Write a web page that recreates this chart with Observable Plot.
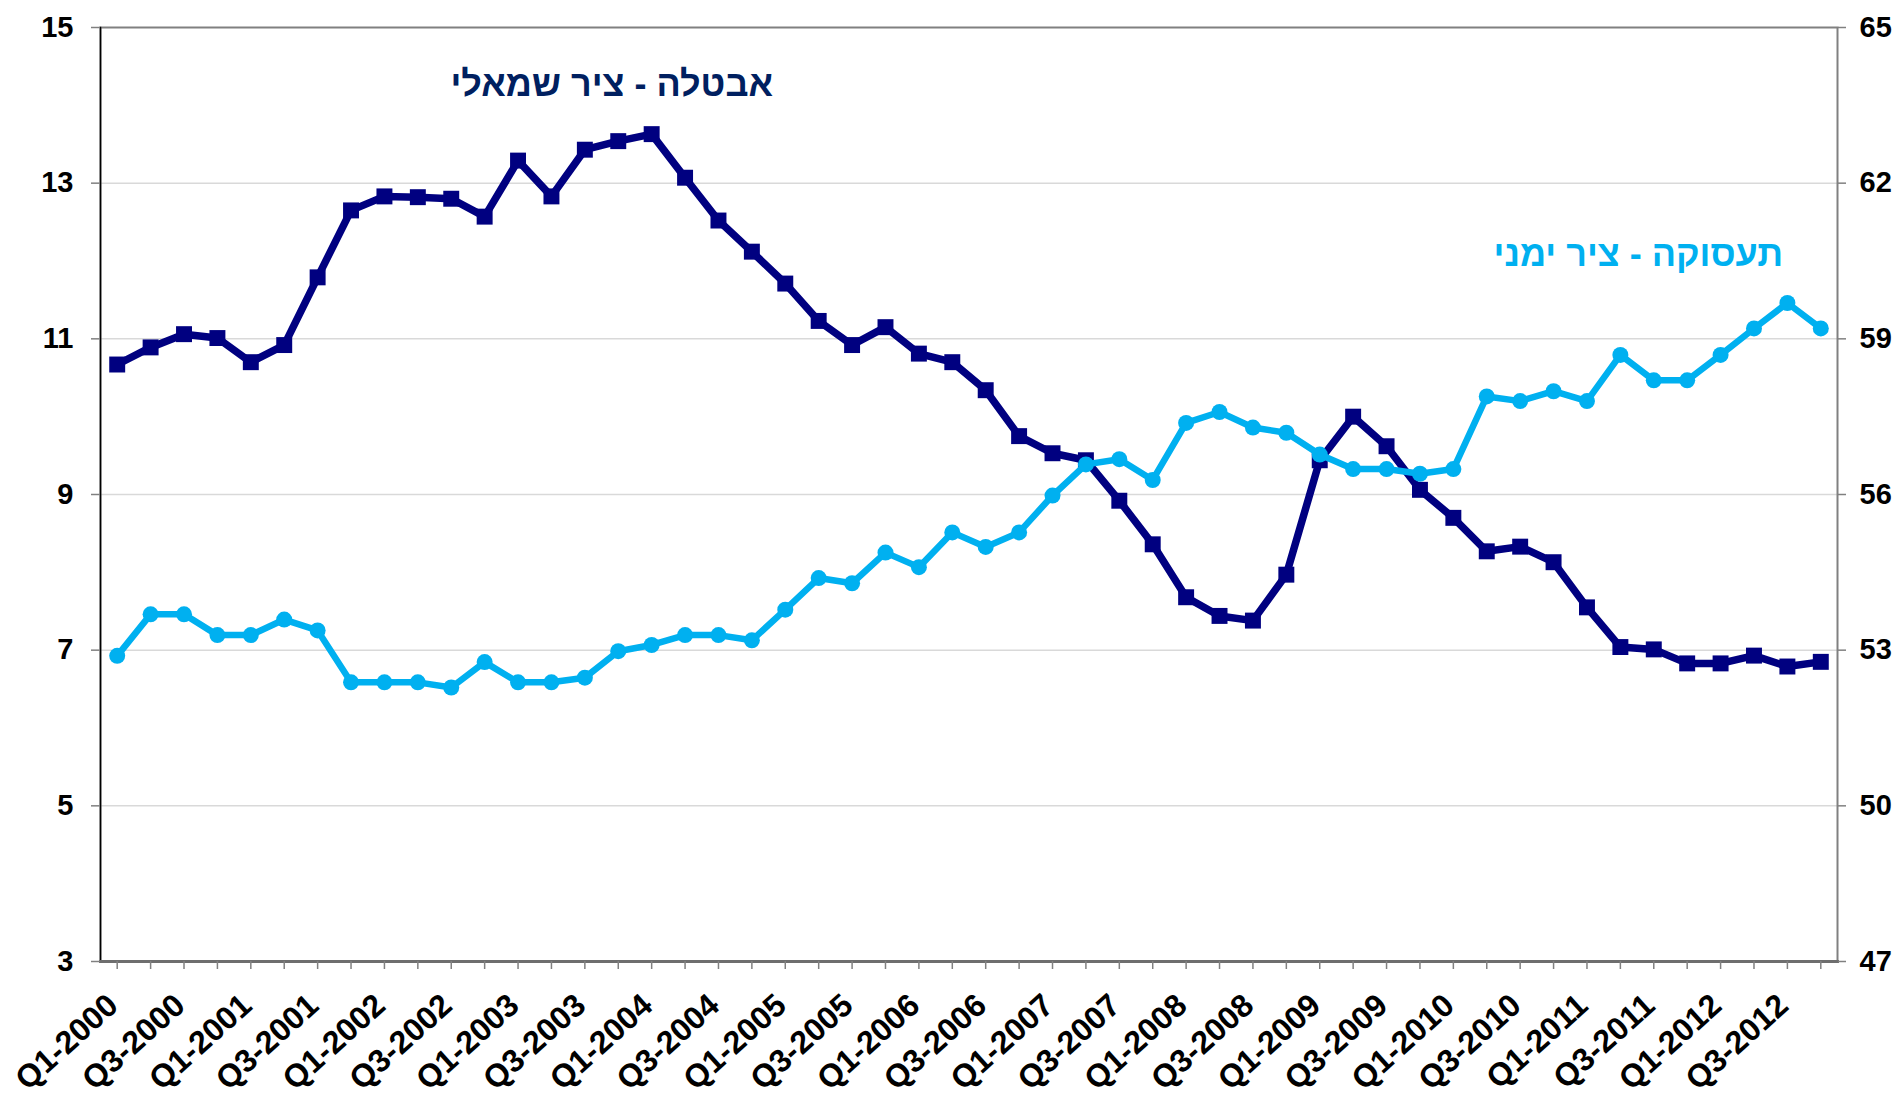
<!DOCTYPE html>
<html>
<head>
<meta charset="utf-8">
<script src="https://cdn.jsdelivr.net/npm/d3@7"></script>
<script src="https://cdn.jsdelivr.net/npm/@observablehq/plot@0.6"></script>
<style>
  html, body { margin: 0; padding: 0; background: white; }
  #wrap { position: relative; width: 1900px; height: 1096px; overflow: hidden; }
  .lbl { position: absolute; font-family: "Liberation Sans", Arial, sans-serif; font-weight: bold;
         font-size: 36px; line-height: 36px; white-space: nowrap; direction: rtl; }
</style>
</head>
<body>
<div id="wrap"></div>
<script>
// Quarters Q1-2000 .. Q4-2012
const categories = [
  "Q1-2000","Q2-2000","Q3-2000","Q4-2000",
  "Q1-2001","Q2-2001","Q3-2001","Q4-2001",
  "Q1-2002","Q2-2002","Q3-2002","Q4-2002",
  "Q1-2003","Q2-2003","Q3-2003","Q4-2003",
  "Q1-2004","Q2-2004","Q3-2004","Q4-2004",
  "Q1-2005","Q2-2005","Q3-2005","Q4-2005",
  "Q1-2006","Q2-2006","Q3-2006","Q4-2006",
  "Q1-2007","Q2-2007","Q3-2007","Q4-2007",
  "Q1-2008","Q2-2008","Q3-2008","Q4-2008",
  "Q1-2009","Q2-2009","Q3-2009","Q4-2009",
  "Q1-2010","Q2-2010","Q3-2010","Q4-2010",
  "Q1-2011","Q2-2011","Q3-2011","Q4-2011",
  "Q1-2012","Q2-2012","Q3-2012","Q4-2012"
];
const xTickLabels = [
  "Q1-2000","Q3-2000","Q1-2001","Q3-2001","Q1-2002","Q3-2002","Q1-2003","Q3-2003",
  "Q1-2004","Q3-2004","Q1-2005","Q3-2005","Q1-2006","Q3-2006","Q1-2007","Q3-2007",
  "Q1-2008","Q3-2008","Q1-2009","Q3-2009","Q1-2010","Q3-2010","Q1-2011","Q3-2011",
  "Q1-2012","Q3-2012"
];
// Unemployment rate (left axis)
const unemployment = [
  10.67, 10.89, 11.06, 11.01,
  10.70, 10.92, 11.79, 12.65,
  12.83, 12.82, 12.80, 12.57,
  13.29, 12.83, 13.43, 13.54,
  13.63, 13.07, 12.52, 12.12,
  11.71, 11.23, 10.92, 11.15,
  10.81, 10.70, 10.34, 9.75,
  9.53, 9.44, 8.92, 8.36,
  7.68, 7.44, 7.38, 7.97,
  9.44, 10.00, 9.62, 9.06,
  8.70, 8.27, 8.33, 8.13,
  7.55, 7.04, 7.01, 6.83,
  6.83, 6.93, 6.79, 6.85
];
// Employment rate (right axis)
const employment = [
  52.89, 53.69, 53.69, 53.29,
  53.29, 53.59, 53.38, 52.38,
  52.38, 52.38, 52.28, 52.77,
  52.38, 52.38, 52.47, 52.98,
  53.10, 53.29, 53.29, 53.19,
  53.78, 54.39, 54.29, 54.88,
  54.60, 55.27, 54.99, 55.27,
  55.98, 56.58, 56.68, 56.28,
  57.38, 57.59, 57.29, 57.19,
  56.77, 56.49, 56.49, 56.40,
  56.49, 57.89, 57.80, 57.99,
  57.80, 58.69, 58.20, 58.20,
  58.69, 59.20, 59.69, 59.20
];
const leftTicks = [3, 5, 7, 9, 11, 13, 15];
const rightTicks = [47, 50, 53, 56, 59, 62, 65];
const leftGrid = [5, 7, 9, 11, 13];
const labelLeft = "אבטלה - ציר שמאלי";
const labelRight = "תעסוקה - ציר ימני";

// dual-axis mapping: right axis value -> left axis units
const rMin = rightTicks[0], rMax = rightTicks[rightTicks.length - 1];
const lMin = leftTicks[0], lMax = leftTicks[leftTicks.length - 1];
const k = (rMax - rMin) / (lMax - lMin);
const toLeft = w => lMin + (w - rMin) / k;
const toRight = v => rMin + (v - lMin) * k;

const data = categories.map((q, i) => ({q, u: unemployment[i], e: toLeft(employment[i])}));

const NAVY = "#000080";
const SKY = "#00B0F0";

const chart = Plot.plot({
  width: 1900,
  height: 1096,
  marginLeft: 100,
  marginRight: 63,
  marginTop: 27,
  marginBottom: 135,
  x: {type: "point", domain: categories, padding: 0.5, round: false},
  y: {domain: [lMin, lMax]},
  style: {fontFamily: "'Liberation Sans', Arial, sans-serif", fontWeight: "bold", background: "white", color: "black"},
  marks: [
    Plot.gridY(leftGrid, {stroke: "#d9d9d9", strokeOpacity: 1, strokeWidth: 1.5}),
    Plot.frame({stroke: "#808080", strokeWidth: 2}),
    Plot.frame({anchor: "left", stroke: "black", strokeWidth: 1.5}),
    Plot.frame({anchor: "bottom", stroke: "#6e6e6e", strokeWidth: 3}),
    Plot.axisY(leftTicks, {anchor: "left", tickSize: 9, tickPadding: 18, fontSize: 29, fontWeight: "bold",
      stroke: "#808080", strokeWidth: 1.5, fill: "black", tickFormat: d => String(d), label: null}),
    Plot.axisY(leftTicks, {anchor: "right", tickSize: 8, tickPadding: 14, fontSize: 29, fontWeight: "bold",
      stroke: "#808080", strokeWidth: 1.5, fill: "black", tickFormat: d => String(Math.round(toRight(d))), label: null}),
    Plot.axisX(categories, {anchor: "bottom", tickSize: 8, stroke: "#808080", strokeWidth: 1.5,
      tickFormat: () => "", label: null}),
    Plot.text(xTickLabels, {x: d => d, text: d => d, frameAnchor: "bottom", rotate: -42,
      textAnchor: "end", lineAnchor: "middle", dx: -4, dy: 39, fontSize: 32, fontWeight: "bold", fill: "black"}),
    Plot.lineY(data, {x: "q", y: "u", stroke: NAVY, strokeWidth: 7.5}),
    Plot.dot(data, {x: "q", y: "u", symbol: "square", r: 9, fill: NAVY, stroke: "none"}),
    Plot.lineY(data, {x: "q", y: "e", stroke: SKY, strokeWidth: 6.5}),
    Plot.dot(data, {x: "q", y: "e", symbol: "circle", r: 8, fill: SKY, stroke: "none"})
  ]
});

const wrap = document.getElementById("wrap");
wrap.appendChild(chart);

const l1 = document.createElement("div");
l1.className = "lbl";
l1.textContent = labelLeft;
l1.style.color = "#002060";
l1.style.right = (1900 - 773) + "px";
l1.style.top = "66px";
wrap.appendChild(l1);

const l2 = document.createElement("div");
l2.className = "lbl";
l2.textContent = labelRight;
l2.style.color = SKY;
l2.style.right = (1900 - 1783) + "px";
l2.style.top = "236px";
wrap.appendChild(l2);
</script>
</body>
</html>
